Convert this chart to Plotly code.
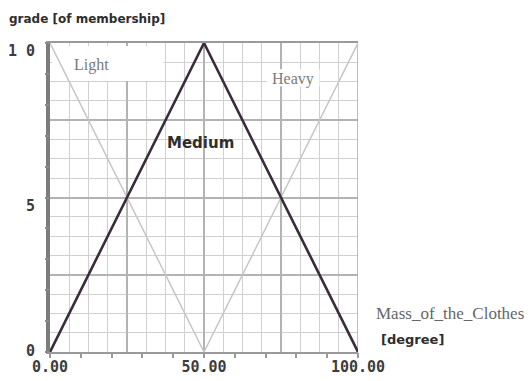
import plotly.graph_objects as go

# Membership functions for the "Mass_of_the_Clothes" fuzzy variable
light_x = [0, 50]
light_y = [1, 0]
medium_x = [0, 50, 100]
medium_y = [0, 1, 0]
heavy_x = [50, 100]
heavy_y = [0, 1]

x_tick_vals = [0, 10, 20, 30, 40, 50, 60, 70, 80, 90, 100]
x_tick_text = ["0.00", "", "", "", "", "50.00", "", "", "", "", "100.00"]
y_tick_vals = [0, 0.1, 0.2, 0.3, 0.4, 0.5, 0.6, 0.7, 0.8, 0.9, 1.0]
y_label_vals = [1.0, 0.5, 0.0]
y_label_text = ["1 0", "5", "0"]
y_label_shift = [-8, -8, 1]

mono = "DejaVu Sans Mono"
fig = go.Figure()

fig.add_trace(go.Scatter(x=light_x, y=light_y, mode="lines",
                         line=dict(color="#c6c6c6", width=1.5), hoverinfo="skip"))
fig.add_trace(go.Scatter(x=heavy_x, y=heavy_y, mode="lines",
                         line=dict(color="#c6c6c6", width=1.5), hoverinfo="skip"))
fig.add_trace(go.Scatter(x=medium_x, y=medium_y, mode="lines",
                         line=dict(color="#3a2c3a", width=2.6), hoverinfo="skip"))
# invisible trace carrying the tick axes
fig.add_trace(go.Scatter(x=[0, 100], y=[0, 1], xaxis="x2", yaxis="y2", mode="markers",
                         marker=dict(opacity=0), hoverinfo="skip"))

fig.update_layout(
    width=531, height=381,
    margin=dict(l=50, r=173, t=43, b=29),
    paper_bgcolor="white", plot_bgcolor="white",
    showlegend=False,
    xaxis=dict(range=[0, 100], dtick=25, showgrid=True, gridcolor="#b3b3b3", gridwidth=1.5,
               minor=dict(dtick=6.25, showgrid=True, gridcolor="#d0d0d0", gridwidth=1.4),
               showticklabels=False, ticks="", zeroline=False, automargin=False,
               showline=True, linecolor="#9a9a9a", linewidth=2, mirror=True),
    yaxis=dict(range=[0, 1], dtick=0.25, showgrid=True, gridcolor="#b3b3b3", gridwidth=1.5,
               minor=dict(dtick=0.0625, showgrid=True, gridcolor="#d0d0d0", gridwidth=1.4),
               showticklabels=False, ticks="", zeroline=False, automargin=False,
               showline=True, linecolor="#7c7c7c", linewidth=4, mirror=False),
    xaxis2=dict(range=[0, 100], overlaying="x", side="bottom", showgrid=False, zeroline=False,
                tickmode="array", tickvals=x_tick_vals, ticktext=x_tick_text,
                ticks="outside", ticklen=5, tickcolor="#9a9a9a", tickwidth=1.5,
                ticklabelstandoff=-4, automargin=False,
                tickfont=dict(family=mono, size=15, color="#3c3c3c", weight="bold")),
    yaxis2=dict(range=[0, 1], overlaying="y", side="left", showgrid=False, zeroline=False,
                tickmode="array", tickvals=y_tick_vals, showticklabels=False,
                ticks="outside", ticklen=4, tickcolor="#8a8a8a", tickwidth=1.5,
                automargin=False),
)

# right frame line
fig.add_shape(type="line", xref="x", yref="y", x0=100, x1=100, y0=0, y1=1,
              line=dict(color="#a8a8a8", width=1.5), layer="between")

# white backgrounds behind the term labels (above grid, below lines)
fig.add_shape(type="rect", xref="x", yref="y", x0=0.7, x1=36.8, y0=0.877, y1=0.99,
              fillcolor="white", line=dict(width=0), layer="between")
fig.add_shape(type="rect", xref="x", yref="y", x0=70.5, x1=87.5, y0=0.86, y1=0.915,
              fillcolor="white", line=dict(width=0), layer="between")

# y tick labels
for v, t, s in zip(y_label_vals, y_label_text, y_label_shift):
    fig.add_annotation(x=0, y=v, xref="x", yref="y", text=t, showarrow=False,
                       xanchor="right", xshift=-13, yshift=s,
                       font=dict(family=mono, size=15, color="#3c3c3c", weight="bold"))

# term labels
fig.add_annotation(x=13.5, y=0.93, xref="x", yref="y", text="Light", showarrow=False,
                   font=dict(family="Liberation Serif", size=16, color="#7a7a7a"))
fig.add_annotation(x=79, y=0.885, xref="x", yref="y", text="Heavy", showarrow=False,
                   font=dict(family="Liberation Serif", size=16, color="#7a7a7a"))
fig.add_annotation(x=49, y=0.675, xref="x", yref="y", text="Medium", showarrow=False,
                   font=dict(family="DejaVu Sans", size=15, color="#2e2e2e", weight="bold"))

# axis titles
fig.add_annotation(x=7, y=381 - 19, xref="paper", yref="paper", text="grade [of membership]",
                   showarrow=False, xanchor="left", yanchor="middle",
                   font=dict(family="DejaVu Sans", size=12, color="#2e2e2e", weight="bold"))
fig.add_annotation(x=374, y=381 - 313, xref="paper", yref="paper", text="Mass_of_the_Clothes",
                   showarrow=False, xanchor="left", yanchor="middle",
                   font=dict(family="Liberation Serif", size=17, color="#666666"))
fig.add_annotation(x=379, y=381 - 339, xref="paper", yref="paper", text="[degree]",
                   showarrow=False, xanchor="left", yanchor="middle",
                   font=dict(family="DejaVu Sans", size=13, color="#2e2e2e", weight="bold"))

# convert pixel-positioned titles to paper fractions of the plot area
plot_w = 531 - 50 - 173
plot_h = 381 - 43 - 29
for ann in fig.layout.annotations:
    if ann.xref == "paper":
        ann.x = (ann.x - 50) / plot_w
        ann.y = (ann.y - 29) / plot_h

fig.write_html("out.html")
